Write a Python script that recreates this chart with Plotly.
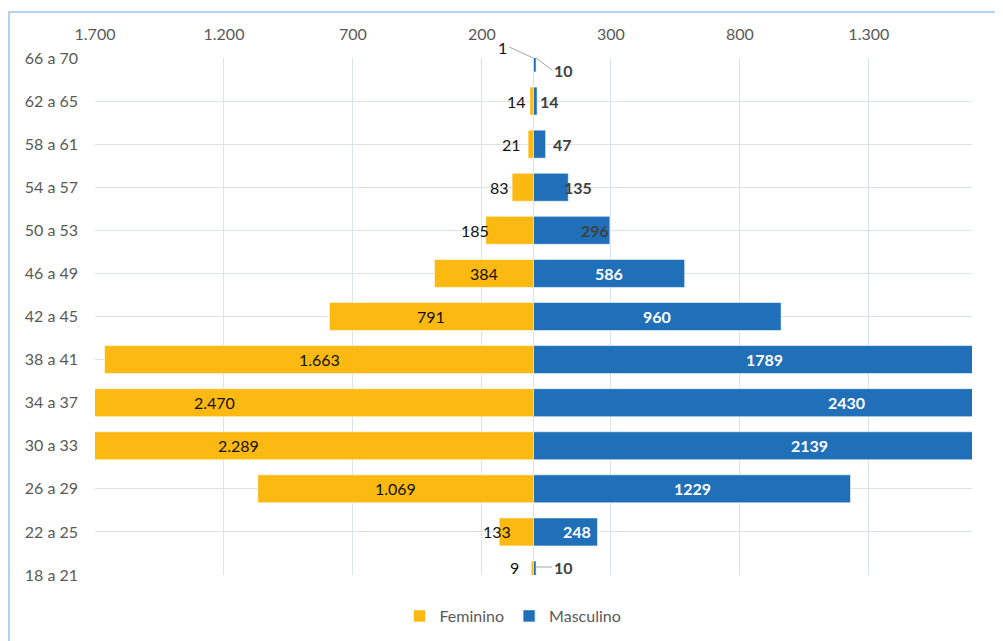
import plotly.graph_objects as go

# ---------------- data ----------------
categories = ["18 a 21", "22 a 25", "26 a 29", "30 a 33", "34 a 37", "38 a 41",
              "42 a 45", "46 a 49", "50 a 53", "54 a 57", "58 a 61", "62 a 65", "66 a 70"]
feminino = [9, 133, 1069, 2289, 2470, 1663, 791, 384, 185, 83, 21, 14, 1]
masculino = [10, 248, 1229, 2139, 2430, 1789, 960, 586, 296, 135, 47, 14, 10]
tick_values = [-1700, -1200, -700, -200, 300, 800, 1300]

# ---------------- style ----------------
FONT = "Lato"
YELLOW = "#FCB912"
BLUE = "#1F70B9"
GRID = "#DCE2EA"
AXIS_TXT = "#595959"
DARK_LBL = "#404040"

# page has an 8px body margin: figure is drawn from (8, 8)
W, H = 995, 633
ML, MR, MT, MB = 87, 31, 50, 66
PW, PH = W - ML - MR, H - MT - MB


def fmt_pt(v):
    return f"{abs(v):,}".replace(",", ".")


# label placement per category: (mode, xshift, yshift)
# mode: "center" = inside centre, "out" = outside end, "in" = inside end, "call" = callout
fem_style = [("out", -10, 8), ("out", 14, 0), ("center", 0, 0), ("center", 0, 0),
             ("center", 0, 0), ("center", 0, 0), ("center", 0, 0), ("center", 0, 0),
             ("out", 5, 0), ("out", -1, 0), ("out", -5, 0), ("out", -2, 0), ("call", 0, 0)]
mas_style = [("call", 0, 8), ("in", -4, 0), ("center", 0, 0), ("center", 0, 0),
             ("center", 0, 0), ("center", 0, 0), ("center", 0, 0), ("center", 0, 0),
             ("in", 1, 0), ("out", -6, 0), ("out", 5, 0), ("out", 1, 0), ("call", 0, 0)]
mas_white = [False, True, True, True, True, True, True, True,
             False, False, False, False, False]

fig = go.Figure()
fig.add_trace(go.Bar(
    y=categories, x=[-v for v in feminino], orientation="h", name="Feminino",
    marker=dict(color=YELLOW, line=dict(color="rgba(255,255,255,0.7)", width=0.8)),
    width=0.65, hoverinfo="skip"))
fig.add_trace(go.Bar(
    y=categories, x=masculino, orientation="h", name="Masculino",
    marker=dict(color=BLUE, line=dict(color="rgba(255,255,255,0.7)", width=0.8)),
    width=0.65, hoverinfo="skip"))

annotations = []
# female labels
for i, (cat, v) in enumerate(zip(categories, feminino)):
    mode, xs, ys = fem_style[i]
    base = dict(y=cat, xref="x", yref="y", text=fmt_pt(v),
                font=dict(family=FONT, size=16, color="#111111"))
    if mode == "center":
        annotations.append(dict(base, x=-v / 2, xanchor="center", showarrow=False))
    elif mode == "out":
        annotations.append(dict(base, x=-v, xanchor="right", xshift=xs, yshift=ys, showarrow=False))
    else:  # callout
        annotations.append(dict(base, x=-v, showarrow=True, arrowhead=0, arrowwidth=1,
                                arrowcolor="#A6A6A6", ax=-24, ay=-11, xanchor="right",
                                standoff=0))

# male labels
for i, (cat, v) in enumerate(zip(categories, masculino)):
    mode, xs, ys = mas_style[i]
    col = "#FFFFFF" if mas_white[i] else DARK_LBL
    base = dict(y=cat, xref="x", yref="y", text=str(v),
                font=dict(family=FONT, size=16, color=col, weight="bold"))
    if mode == "center":
        annotations.append(dict(base, x=v / 2, xanchor="center", showarrow=False))
    elif mode == "in":
        annotations.append(dict(base, x=v, xanchor="right", xshift=xs, showarrow=False))
    elif mode == "out":
        annotations.append(dict(base, x=v, xanchor="left", xshift=xs, showarrow=False))
    else:  # callout
        ay = 0 if i == 0 else 12
        annotations.append(dict(base, x=v, showarrow=True, arrowhead=0, arrowwidth=1,
                                arrowcolor="#A6A6A6", ax=16, ay=ay, yshift=ys,
                                xanchor="left", standoff=0))

fig.update_layout(
    width=W, height=H,
    margin=dict(l=ML, r=MR, t=MT, b=MB, autoexpand=False),
    paper_bgcolor="white", plot_bgcolor="white",
    barmode="overlay",
    font=dict(family=FONT, size=16, color=AXIS_TXT),
    showlegend=True,
    legend=dict(orientation="h", x=(505 - ML) / PW, xanchor="center",
                y=(MT + PH - 608) / PH, yanchor="middle",
                font=dict(family=FONT, size=16, color=AXIS_TXT), itemwidth=30,
                traceorder="normal"),
    annotations=annotations,
    shapes=[dict(type="rect", xref="paper", yref="paper",
                 x0=(1 - ML) / PW, x1=(W + 10 - ML) / PW,
                 y0=(MT + PH - (H + 10)) / PH, y1=(MT + PH - 4) / PH,
                 line=dict(color="#9DC3E6", width=1.5), layer="below")],
)

fig.update_xaxes(
    side="top", range=[-1700, 1700],
    tickvals=tick_values, ticktext=[fmt_pt(v) for v in tick_values],
    showgrid=True, gridcolor=GRID, gridwidth=1,
    zeroline=True, zerolinecolor=GRID, zerolinewidth=1,
    ticks="", ticklabelstandoff=14, showline=False,
    tickfont=dict(family=FONT, size=16, color=AXIS_TXT),
)
fig.update_yaxes(
    type="category", categoryorder="array", categoryarray=categories,
    range=[0, 12],
    showgrid=True, gridcolor=GRID, gridwidth=1,
    ticks="", ticklabelstandoff=16, showline=False, zeroline=False,
    tickfont=dict(family=FONT, size=16, color=AXIS_TXT),
)

fig.write_html("out.html")
